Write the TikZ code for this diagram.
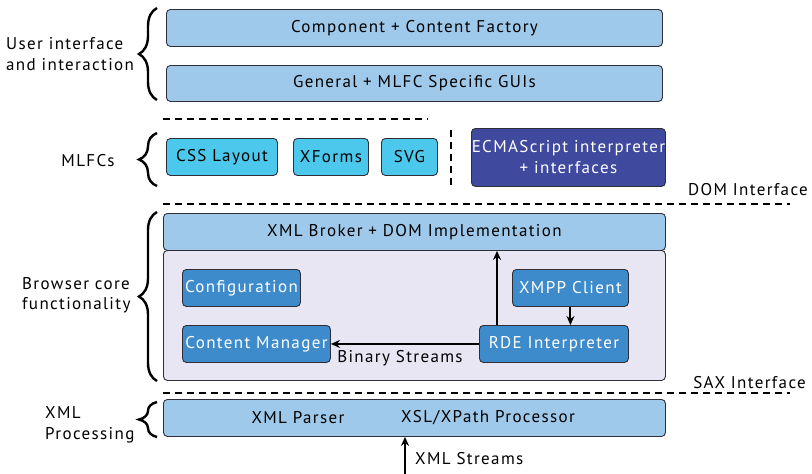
\documentclass[tikz,border=0pt]{standalone}
\usepackage{fontspec}
\setmainfont{PT Sans}[LetterSpace=8]
\usetikzlibrary{arrows.meta,decorations.pathreplacing}
\definecolor{lblue}{HTML}{9FC9EA}
\definecolor{cyanb}{HTML}{4BC8EC}
\definecolor{dblue}{HTML}{3F4A9E}
\definecolor{mblue}{HTML}{3E8BCB}
\definecolor{lav}{HTML}{E8E6F2}
\definecolor{edge}{HTML}{2E2E38}
\tikzset{
  base/.style={draw=edge, line width=0.9pt, rounded corners=4pt, anchor=north west, inner sep=0pt, font=\fontsize{17}{21}\selectfont},
  lbox/.style={base, fill=lblue, text=black},
  cbox/.style={base, fill=cyanb, text=black},
  dbox/.style={base, fill=dblue, text=white, align=center},
  mbox/.style={base, fill=mblue, text=white},
  cont/.style={base, fill=lav},
  dash line/.style={line width=2.6pt, dash pattern=on 7pt off 5pt},
  arr/.style={line width=2.6pt, -{Stealth[length=9pt,width=8pt]}},
  brc/.style={decorate, decoration={brace, amplitude=18pt}, line width=2.4pt},
  lbl/.style={font=\fontsize{17}{20.5}\selectfont, align=left, inner sep=0pt},
  txt/.style={font=\fontsize{17}{21}\selectfont, inner sep=0pt},
}
\begin{document}
\begin{tikzpicture}[x=1pt,y=-1pt]
\useasboundingbox (0,0) rectangle (812,474);
% user interface
\node[lbox, minimum width=496pt, minimum height=37pt] (cf) at (166,9) {Component + Content Factory};
\node[lbox, minimum width=496pt, minimum height=36pt] (gen) at (166,65) {General + MLFC Specific GUIs};
% MLFCs
\node[cbox, minimum width=111pt, minimum height=37pt] (css) at (166,138) {CSS Layout};
\node[cbox, minimum width=75pt, minimum height=37pt] (xf) at (293,138) {XForms};
\node[cbox, minimum width=56pt, minimum height=37pt] (svg) at (381,138) {SVG};
\node[dbox, minimum width=194pt, minimum height=58pt] (ecma) at (471,128) {ECMAScript interpreter\\ + interfaces};
% core
\node[cont, minimum width=502pt, minimum height=130pt] (core) at (163,250) {};
\node[lbox, minimum width=502pt, minimum height=37pt] (broker) at (163,213) {XML Broker + DOM Implementation};
\node[mbox, minimum width=118pt, minimum height=37pt] (conf) at (182,269) {Configuration};
\node[mbox, minimum width=148pt, minimum height=37pt] (cm) at (182,325) {Content Manager};
\node[mbox, minimum width=116pt, minimum height=37pt] (xmpp) at (512,269) {XMPP Client};
\node[mbox, minimum width=149pt, minimum height=37pt] (rde) at (479,325) {RDE Interpreter};
% xml processing
\node[lbox, minimum width=502pt, minimum height=37pt] (xp) at (163,399) {};
\node[txt] (parser) at (298,418) {XML Parser};
\node[txt] (xsl) at (488,418) {XSL/XPath Processor};
% dashed lines
\draw[dash line] (163,119) -- (428,119);
\draw[dash line] (451,130) -- (451,186);
\draw[dash line] (163,204) -- (790,204);
\draw[dash line] (163,393) -- (790,393);
\node[txt, anchor=east] (dom) at (808,190) {DOM Interface};
\node[txt, anchor=east] (sax) at (806,383) {SAX Interface};
% arrows
\draw[arr] ([xshift=18pt]rde.north west) -- ([xshift=18pt]rde.north west |- broker.south);
\draw[arr, line width=2pt] (xmpp.south) -- (xmpp.south |- rde.north);
\draw[arr] (rde.west) -- (cm.east) node[pos=0.5, below=5pt, txt, xshift=-5pt] (bs) {Binary Streams};
\coordinate (xs) at (405,474);
\draw[arr] (xs) -- (xs |- xp.south);
\node[txt, anchor=west] (xsl2) at (415,459) {XML Streams};
% braces
\draw[brc] (157,100) -- (157,8);
\draw[brc] (157,186) -- (157,133);
\draw[brc] (157,381) -- (157,212);
\draw[brc] (157,437) -- (157,402);
% labels
\node[lbl, anchor=west] (ui) at (6,54) {User interface\\and interaction};
\node[lbl] (ml) at (88,161) {MLFCs};
\node[lbl, anchor=west] (bc) at (22,295) {Browser core\\functionality};
\node[lbl, anchor=west] (xmlp) at (45,425) {XML\\Processing};
\end{tikzpicture}
\end{document}
